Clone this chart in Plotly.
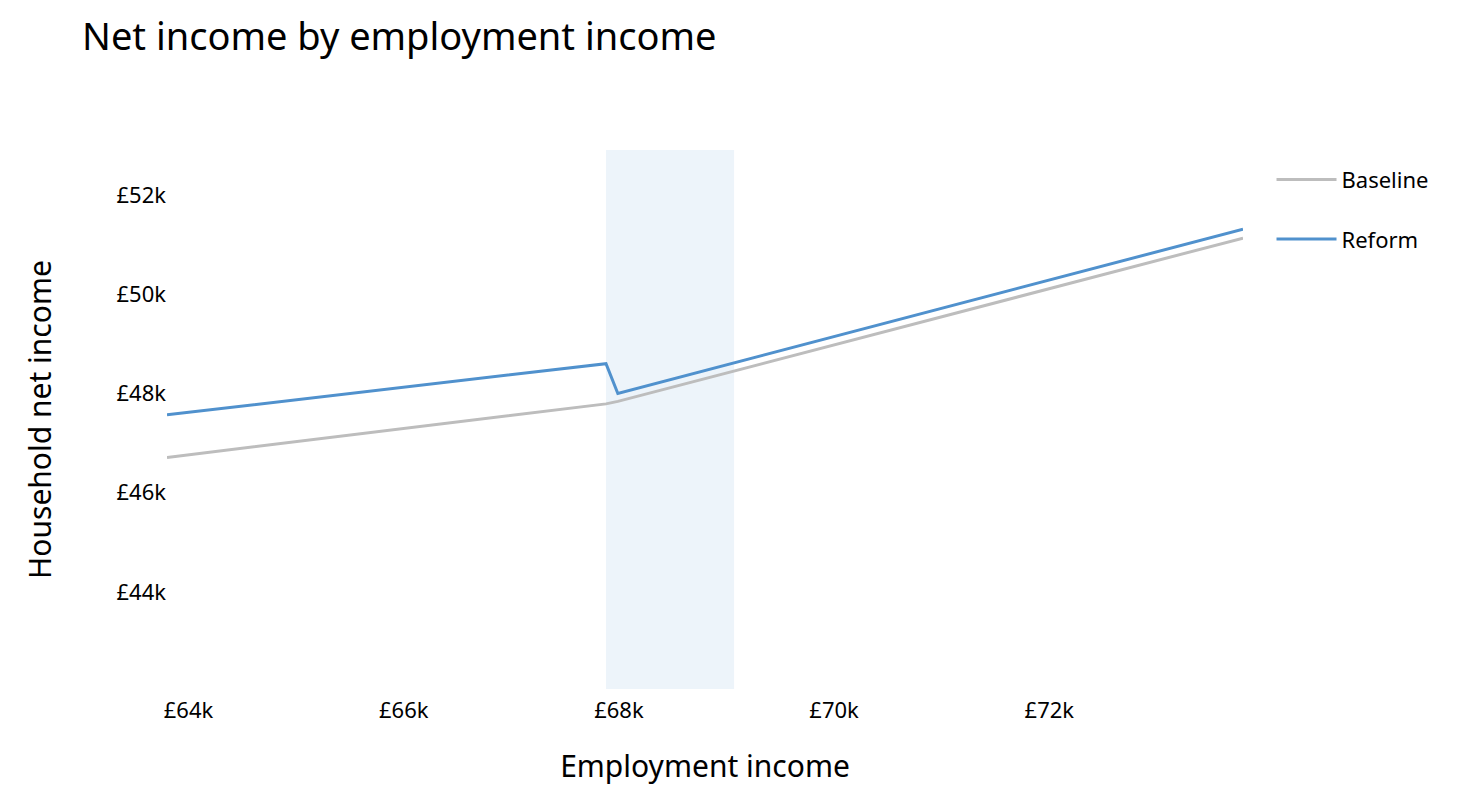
import plotly.graph_objects as go

# employment income points (GBP) and household net income for each scenario
employment_income = [63800, 67880, 67990, 73800]
baseline_net = [46710, 47790, 47840, 51130]
reform_net = [47570, 48600, 48000, 51310]

# highlighted income band
band_start = 67880
band_end = 69070

BLUE = "#5091CD"
GRAY = "#BDBDBD"
FONT = "Noto Sans"

fig = go.Figure()

fig.add_trace(go.Scatter(
    x=employment_income, y=baseline_net,
    mode="lines", name="Baseline",
    line=dict(color=GRAY, width=3),
    legendgroup="baseline",
))
fig.add_trace(go.Scatter(
    x=employment_income, y=reform_net,
    mode="lines", name="Reform",
    line=dict(color=BLUE, width=3),
    legendgroup="reform",
))

fig.add_vrect(
    x0=band_start, x1=band_end,
    fillcolor=BLUE, opacity=0.1, line_width=0, layer="below",
)

# the page body adds an 8px offset, so margins are trimmed by that much
fig.update_layout(
    template="plotly_white",
    width=1474,
    height=804,
    margin=dict(l=159, r=239, t=142, b=123),
    font=dict(family=FONT, color="black", size=22),
    title=dict(
        text="Net income by employment income",
        x=74 / 1474, xref="container", xanchor="left",
        y=1 - 29 / 804, yref="container", yanchor="middle",
        font=dict(size=38, family=FONT),
    ),
    xaxis=dict(
        title=dict(text="Employment income", font=dict(size=30), standoff=32),
        range=[63800, 73800],
        dtick=2000,
        tickprefix="£",
        tickformat="~s",
        ticklabelstandoff=6,
        showgrid=False,
        zeroline=False,
        showline=False,
    ),
    yaxis=dict(
        title=dict(text="Household net income", font=dict(size=30), standoff=55),
        range=[42045, 52905],
        dtick=2000,
        tickprefix="£",
        tickformat="~s",
        showgrid=False,
        zeroline=False,
        showline=False,
    ),
    legend=dict(
        x=1.0265, y=0.984, xanchor="left", yanchor="top",
        font=dict(size=22),
        traceorder="grouped",
        tracegroupgap=28,
        itemwidth=60,
        bgcolor="rgba(0,0,0,0)",
    ),
)

fig.write_html("out.html")
